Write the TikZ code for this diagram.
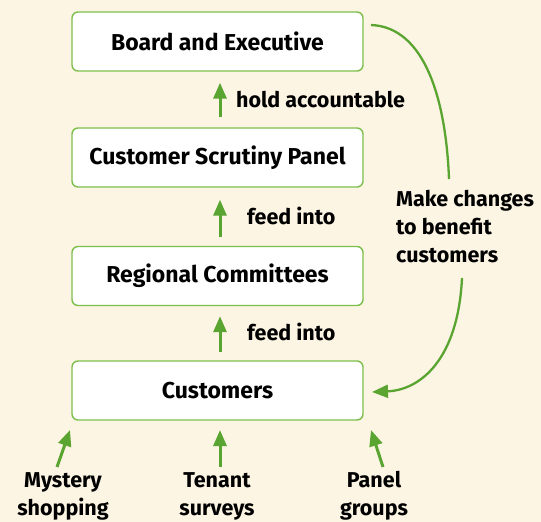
\documentclass[tikz,border=0pt]{standalone}
\usepackage{fontspec}
\setmainfont{Fira Sans}
\usetikzlibrary{arrows.meta,calc}
\definecolor{bg}{HTML}{FDF5E3}
\definecolor{arrgreen}{HTML}{5AA532}
\definecolor{boxgreen}{HTML}{7CBF4C}
\tikzset{
  box/.style={draw=boxgreen, line width=1.4pt, fill=white, rounded corners=6pt,
    minimum width=291pt, minimum height=59pt, font=\fontsize{23}{26}\selectfont\bfseries, text=black},
  lbl/.style={font=\fontsize{21.5}{28}\selectfont\bfseries, text=black, inner sep=0pt},
  arr/.style={draw=arrgreen, line width=3pt, -{Triangle[width=13pt,length=16pt]}},
  curv/.style={draw=arrgreen, line width=2.3pt},
}
\begin{document}
\begin{tikzpicture}[x=1pt,y=-1pt]
\fill[bg] (0,0) rectangle (541,522);
\useasboundingbox (0,0) rectangle (541,522);
\node[box] (board) at (217.5,41.5) {Board and Executive};
\node[box] (csp) at (217.5,157.5) {Customer Scrutiny Panel};
\node[box] (reg) at (217.5,276) {Regional Committees};
\node[box] (cust) at (217.5,390.5) {Customers};
\draw[arr, shorten <=10pt, shorten >=11pt] (csp.north -| 220,0) -- (board.south -| 220,0);
\draw[arr, shorten <=9pt, shorten >=12pt] (reg.north -| 220,0) -- (csp.south -| 220,0);
\draw[arr, shorten <=8pt, shorten >=10pt] (cust.north -| 220,0) -- (reg.south -| 220,0);
\node[lbl, anchor=base west] (l1) at (236,107) {hold accountable};
\node[lbl, anchor=base west] (l2) at (247,224) {feed into};
\node[lbl, anchor=base west] (l3) at (247,340) {feed into};
\node[lbl, align=center, anchor=base] (ms) at (63,515) {Mystery\\shopping};
\node[lbl, align=center, anchor=base] (ts) at (217,515) {Tenant\\surveys};
\node[lbl, align=center, anchor=base] (pg) at (374,515) {Panel\\groups};
\draw[arr] (57,467) coordinate (msa) -- (70,430) coordinate (msb);
\draw[arr] (220,467) coordinate (tsa) -- (220,430) coordinate (tsb);
\draw[arr] (383,467) coordinate (pga) -- (371,430) coordinate (pgb);
\node[lbl, align=left, anchor=base west] (mk) at (396,262) {Make changes\\to benefit\\customers};
\coordinate (c1) at (371,25);
\coordinate (c2) at (449,179);
\coordinate (c3) at (462,278);
\coordinate (c4) at (372,392);
\draw[curv] (c1) .. controls (425,27) and (446,100) .. (c2);
\draw[arr, line width=2.3pt] (c3) .. controls (458,360) and (420,390) .. (c4);
\end{tikzpicture}
\end{document}
